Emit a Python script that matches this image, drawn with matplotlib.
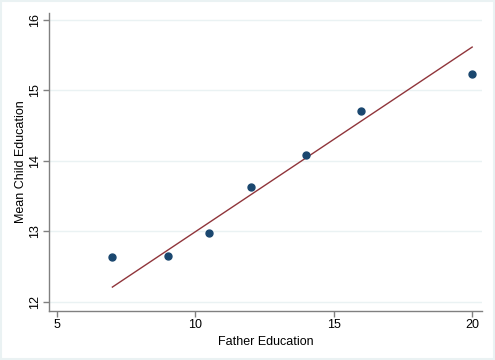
import matplotlib
matplotlib.use("Agg")
import matplotlib.pyplot as plt
import numpy as np

plt.rcParams['font.family'] = ['Liberation Sans', 'DejaVu Sans']

# father education levels and mean child education
father_edu = [7, 9, 10.5, 12, 14, 16, 20]
child_edu = [12.64, 12.65, 12.98, 13.63, 14.08, 14.71, 15.24]

# fitted line
fit_intercept = 10.376
fit_slope = 0.262

x_ticks = [5, 10, 15, 20]
y_ticks = [12, 13, 14, 15, 16]

fig = plt.figure(figsize=(4.95, 3.6), dpi=100)
fig.patch.set_facecolor('white')
# light outer frame like stata
fig.add_artist(plt.Rectangle((0.002, 0.003), 0.995, 0.993, transform=fig.transFigure,
                             fill=False, edgecolor='#eaf2f3', linewidth=1.5))

ax = fig.add_axes([0.099, 0.136, 0.875, 0.828])

for y in y_ticks:
    ax.axhline(y, color='#eaf2f3', linewidth=1.0, zorder=0)

fx = np.array([min(father_edu), max(father_edu)])
ax.plot(fx, fit_intercept + fit_slope * fx, color='#90353b', linewidth=1.0, zorder=2)
ax.plot(father_edu, child_edu, 'o', color='#1a476f', markersize=5.0, zorder=3)

ax.set_xlim(4.71, 20.36)
ax.set_ylim(11.87, 16.1)
ax.set_xticks(x_ticks)
ax.set_yticks(y_ticks)
ax.set_yticklabels([str(v) for v in y_ticks], rotation=90, va='center')

for s in ['top', 'right']:
    ax.spines[s].set_visible(False)
for s in ['left', 'bottom']:
    ax.spines[s].set_color('#808080')
    ax.spines[s].set_linewidth(1.0)
ax.tick_params(direction='out', length=4, width=1, color='#808080', labelsize=9, pad=2)

ax.set_xlabel("Father Education", fontsize=9, labelpad=3)
ax.set_ylabel("Mean Child Education", fontsize=9, labelpad=1)

fig.savefig("out.png", dpi=100)
